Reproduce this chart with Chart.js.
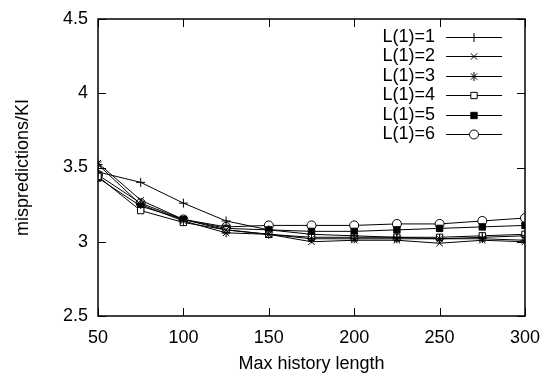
<!DOCTYPE html>
<html>
<head>
<meta charset="utf-8">
<script src="https://cdn.jsdelivr.net/npm/chart.js@4/dist/chart.umd.min.js"></script>
<style>
  html, body { margin: 0; padding: 0; background: #fff; }
  #wrap { width: 545px; height: 373px; position: relative; }
</style>
</head>
<body>
<div id="wrap"><canvas id="chart"></canvas></div>
<script>
const historyLengths = [50, 75, 100, 125, 150, 175, 200, 225, 250, 275, 300];
const xTicks = [50, 100, 150, 200, 250, 300];
const yTicks = [2.5, 3, 3.5, 4, 4.5];

const seriesNames = ['L(1)=1', 'L(1)=2', 'L(1)=3', 'L(1)=4', 'L(1)=5', 'L(1)=6'];
const l1 = [3.47, 3.40, 3.26, 3.14, 3.08, 3.05, 3.04, 3.03, 3.02, 3.03, 3.04];
const l2 = [3.53, 3.28, 3.15, 3.08, 3.05, 3.00, 3.01, 3.01, 2.99, 3.01, 3.00];
const l3 = [3.52, 3.25, 3.14, 3.06, 3.05, 3.02, 3.02, 3.02, 3.02, 3.02, 3.01];
const l4 = [3.44, 3.21, 3.13, 3.08, 3.05, 3.03, 3.03, 3.03, 3.03, 3.04, 3.05];
const l5 = [3.43, 3.24, 3.15, 3.09, 3.08, 3.07, 3.07, 3.08, 3.09, 3.10, 3.11];
const l6 = [3.45, 3.26, 3.15, 3.10, 3.11, 3.11, 3.11, 3.12, 3.12, 3.14, 3.16];

const FONT = 'Liberation Sans, Arial, Helvetica, sans-serif';
const markers = [
  { style: 'cross', fill: '#000', r: 4.5 },
  { style: 'crossRot', fill: '#000', r: 4.5 },
  { style: 'star', fill: '#000', r: 4.5 },
  { style: 'rect', fill: '#fff', r: 4.5 },
  { style: 'rect', fill: '#000', r: 4.5 },
  { style: 'circle', fill: '#fff', r: 4.5 },
];

const datasets = [l1, l2, l3, l4, l5, l6].map((vals, i) => ({
  label: seriesNames[i],
  data: vals.map((v, j) => ({ x: historyLengths[j], y: v })),
  borderColor: '#000',
  borderWidth: 1,
  backgroundColor: markers[i].fill,
  pointStyle: markers[i].style,
  pointRadius: markers[i].r,
  pointBorderColor: '#000',
  pointBorderWidth: 1,
  pointBackgroundColor: markers[i].fill,
  tension: 0,
}));

// gnuplot style frame: box with inward ticks on all four sides, plus key
const framePlugin = {
  id: 'frame',
  afterDatasetsDraw(chart) {
    const { ctx, chartArea: a, scales: { x, y } } = chart;
    ctx.save();
    ctx.strokeStyle = '#000';
    ctx.lineWidth = 1.5;
    ctx.strokeRect(a.left, a.top, a.right - a.left, a.bottom - a.top);
    ctx.lineWidth = 1;
    ctx.beginPath();
    const t = 8;
    xTicks.forEach((v) => {
      const px = Math.round(x.getPixelForValue(v)) + 0.5;
      ctx.moveTo(px, a.bottom); ctx.lineTo(px, a.bottom - t);
      ctx.moveTo(px, a.top); ctx.lineTo(px, a.top + t);
    });
    yTicks.forEach((v) => {
      const py = Math.round(y.getPixelForValue(v)) + 0.5;
      ctx.moveTo(a.left, py); ctx.lineTo(a.left + t, py);
      ctx.moveTo(a.right, py); ctx.lineTo(a.right - t, py);
    });
    ctx.stroke();

    // key
    ctx.font = '18px ' + FONT;
    ctx.textAlign = 'right';
    ctx.textBaseline = 'middle';
    ctx.fillStyle = '#000';
    chart.data.datasets.forEach((ds, i) => {
      const yy = a.top + 18 + i * 19.4;
      ctx.fillText(ds.label, 435, yy);
      ctx.beginPath();
      ctx.moveTo(446, Math.round(yy) + 0.5);
      ctx.lineTo(502, Math.round(yy) + 0.5);
      ctx.stroke();
      ctx.fillStyle = ds.pointBackgroundColor;
      Chart.helpers.drawPoint(ctx, { pointStyle: ds.pointStyle, radius: ds.pointRadius, borderWidth: 1 }, 474, Math.round(yy) + 0.5);
      ctx.fillStyle = '#000';
    });
    ctx.restore();
  }
};

new Chart(document.getElementById('chart'), {
  type: 'line',
  data: { datasets },
  options: {
    responsive: true,
    maintainAspectRatio: false,
    animation: false,
    layout: { padding: { top: 19, right: 20, left: 0, bottom: 0 } },
    plugins: { legend: { display: false }, tooltip: { enabled: false } },
    scales: {
      x: {
        type: 'linear', min: 50, max: 300,
        afterBuildTicks: (s) => { s.ticks = xTicks.map((v) => ({ value: v })); },
        afterFit: (s) => { s.height = 57; s.paddingLeft = 0; s.paddingRight = 0; },
        grid: { display: false, drawTicks: false },
        border: { display: false },
        ticks: { color: '#000', font: { family: FONT, size: 18 }, padding: 11, maxRotation: 0 },
        title: { display: true, text: 'Max history length', color: '#000', font: { family: FONT, size: 18 }, padding: { top: 0, bottom: -2 } },
      },
      y: {
        type: 'linear', min: 2.5, max: 4.5,
        afterBuildTicks: (s) => { s.ticks = yTicks.map((v) => ({ value: v })); },
        afterFit: (s) => { s.width = 98; s.paddingTop = 0; s.paddingBottom = 0; },
        grid: { display: false, drawTicks: false },
        border: { display: false },
        ticks: { color: '#000', font: { family: FONT, size: 18 }, padding: 10, callback: (v) => String(v) },
        title: { display: true, text: 'mispredictions/KI', color: '#000', font: { family: FONT, size: 18 }, padding: { top: 12, bottom: 0 } },
      },
    },
  },
  plugins: [framePlugin],
});
</script>
</body>
</html>
